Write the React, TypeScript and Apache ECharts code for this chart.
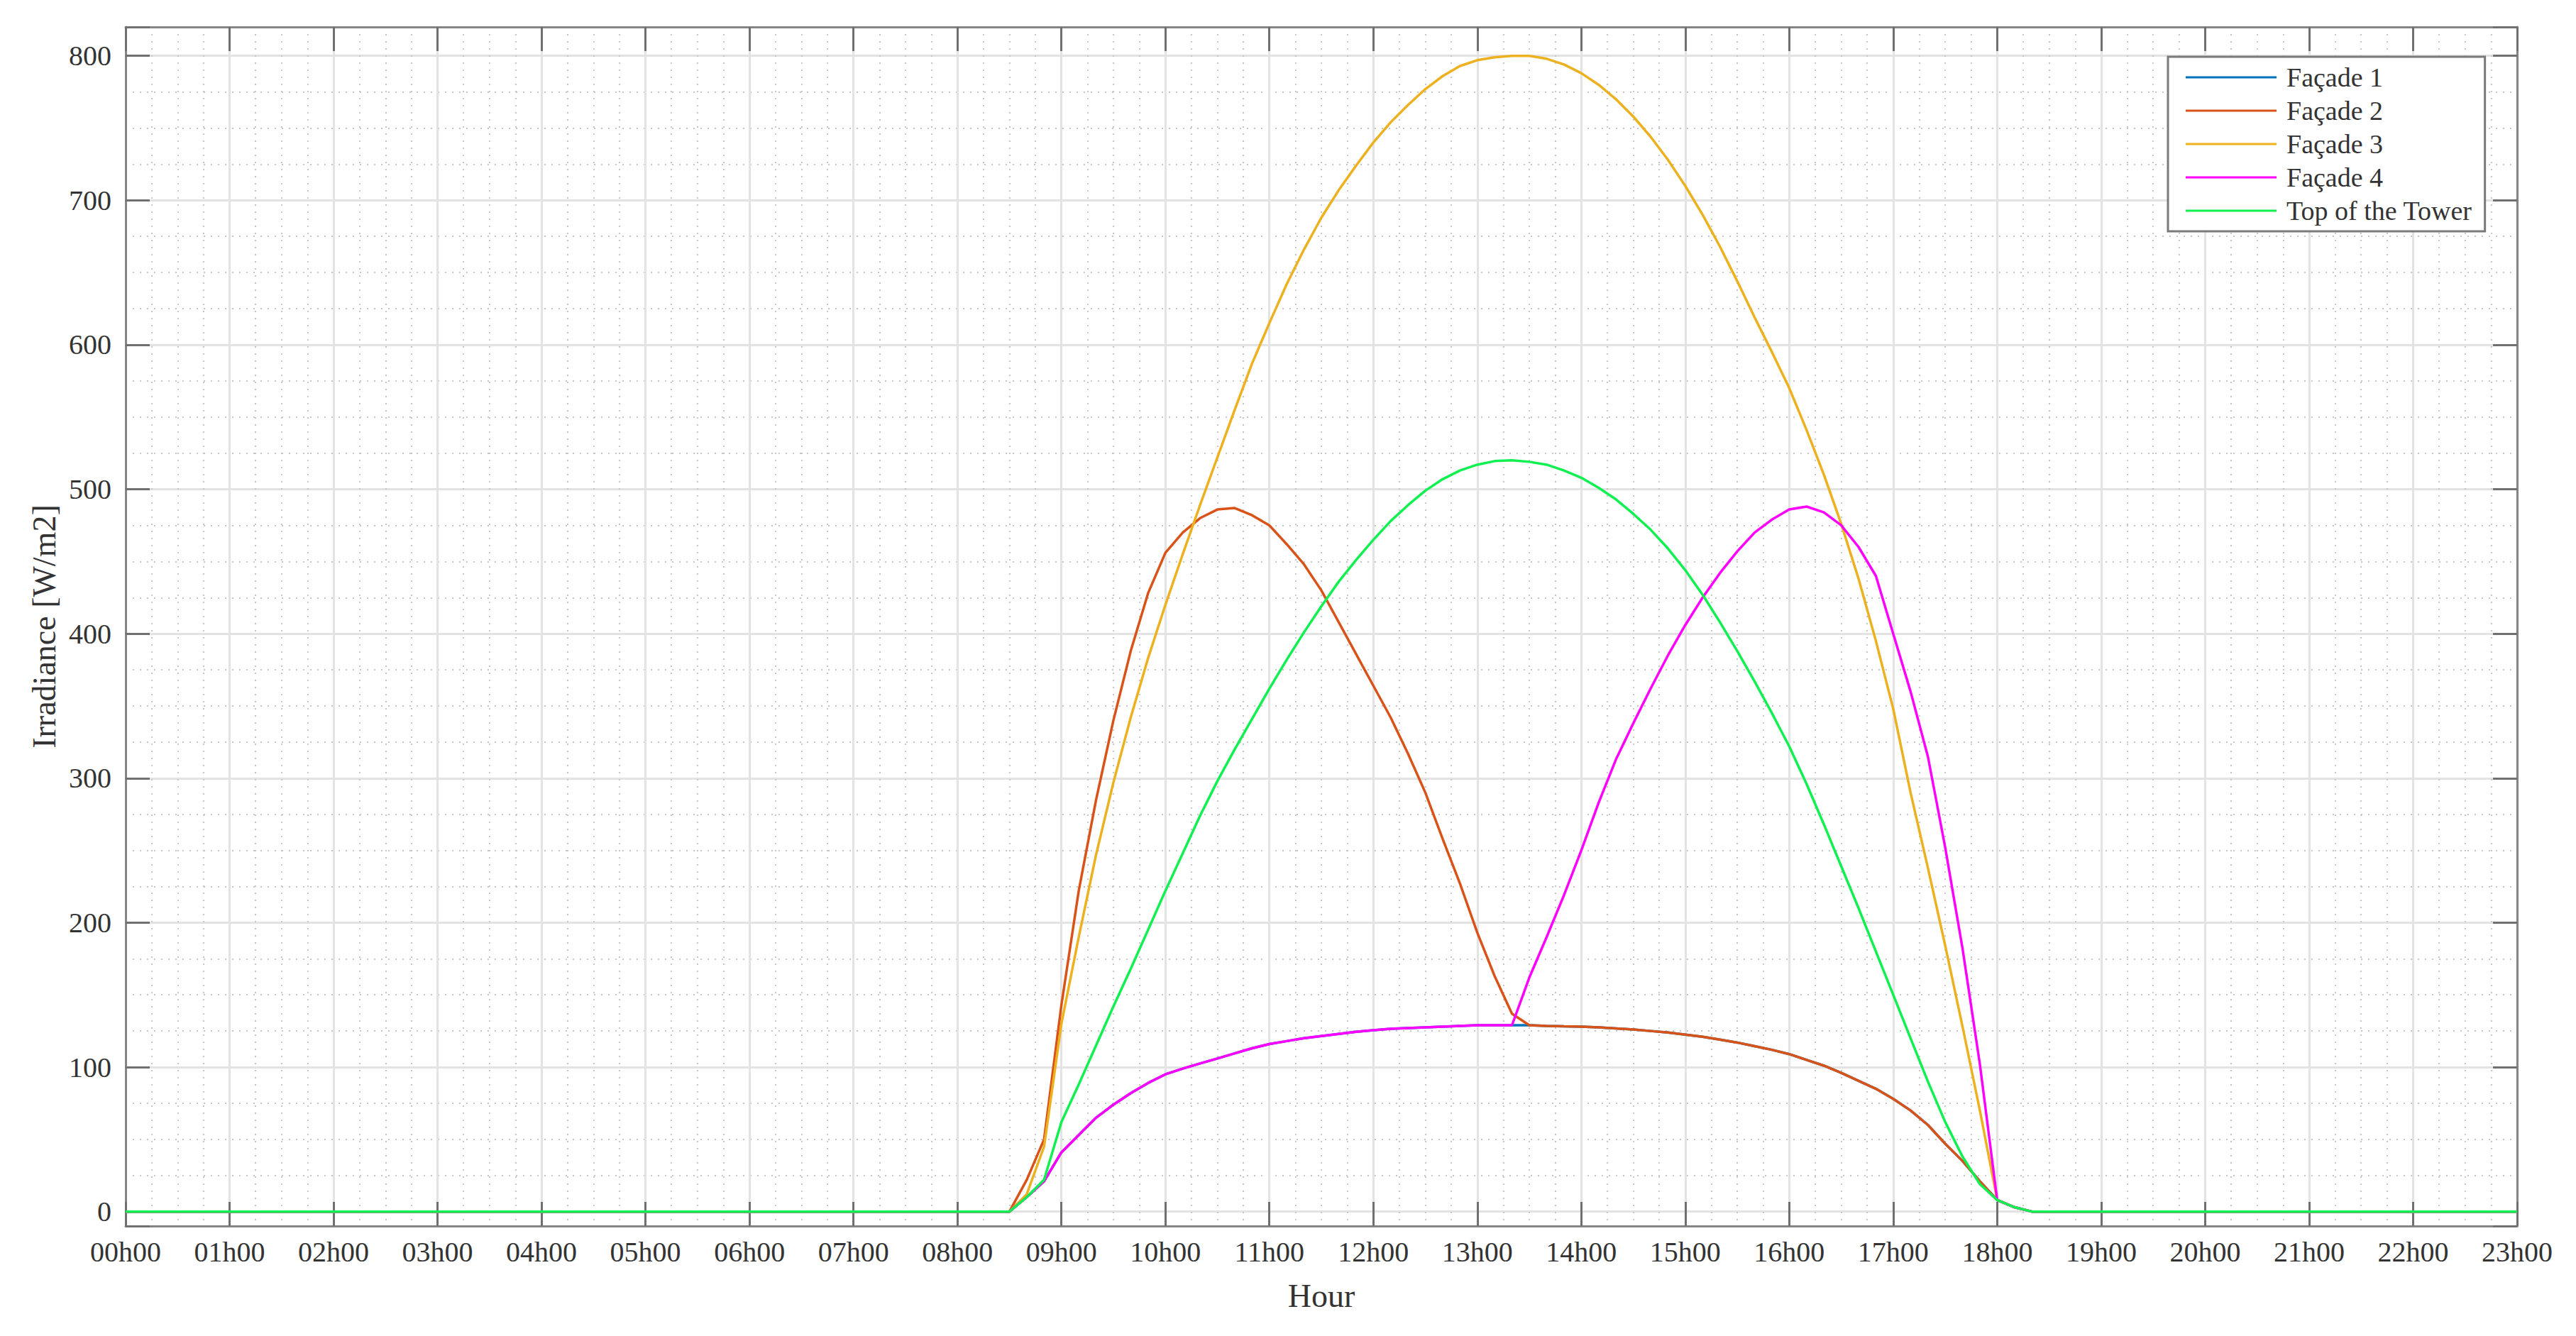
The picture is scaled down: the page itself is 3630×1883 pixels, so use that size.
import React, { useEffect, useRef } from "react";
import * as echarts from "echarts";

// Sample times (10-minute steps while the sun is up)
const TIMES = [
  "08h30", "08h40", "08h50", "09h00", "09h10", "09h20", "09h30", "09h40", "09h50", "10h00",
  "10h10", "10h20", "10h30", "10h40", "10h50", "11h00", "11h10", "11h20", "11h30", "11h40",
  "11h50", "12h00", "12h10", "12h20", "12h30", "12h40", "12h50", "13h00", "13h10", "13h20",
  "13h30", "13h40", "13h50", "14h00", "14h10", "14h20", "14h30", "14h40", "14h50", "15h00",
  "15h10", "15h20", "15h30", "15h40", "15h50", "16h00", "16h10", "16h20", "16h30", "16h40",
  "16h50", "17h00", "17h10", "17h20", "17h30", "17h40", "17h50", "18h00", "18h10", "18h20",
];
const DAY_START = "00h00";
const DAY_END = "23h00";
const NIGHT_VALUE = 0;

const FACADE_1 = [
  0, 10, 21, 41, 53, 65, 74, 82, 89, 95,
  99, 102.5, 106, 109.5, 113, 116, 118, 120, 121.5, 123,
  124.5, 125.5, 126.5, 127, 127.5, 128, 128.5, 129, 129, 129,
  129, 128.5, 128.2, 128, 127.5, 126.8, 126, 125, 124, 122.5,
  121, 119, 117, 114.5, 112, 109, 105, 101, 96, 90.5,
  85, 78, 70, 60, 47, 35, 21, 8, 3, 0,
];
const FACADE_2 = [
  0, 22, 50, 143, 222, 285, 340, 388, 428, 456,
  470, 480, 486, 487, 482, 475, 462, 448, 430, 408,
  386, 364, 342, 317, 290, 258, 227, 193, 163, 137,
  129, 128.5, 128.2, 128, 127.5, 126.8, 126, 125, 124, 122.5,
  121, 119, 117, 114.5, 112, 109, 105, 101, 96, 90.5,
  85, 78, 70, 60, 47, 35, 21, 8, 3, 0,
];
const FACADE_3 = [
  0, 12, 45, 130, 190, 247, 297, 342, 383, 420,
  455, 489, 522, 555, 587, 615, 642, 666, 688, 707,
  724, 740, 754, 766, 777, 786, 793, 797, 799, 800,
  800, 798, 794, 788, 780, 770, 758, 744, 728, 710,
  690, 668, 644, 619, 595, 570, 541, 510, 476, 438,
  395, 348, 290, 238, 184, 128, 70, 8, 3, 0,
];
const FACADE_4 = [
  0, 10, 21, 41, 53, 65, 74, 82, 89, 95,
  99, 102.5, 106, 109.5, 113, 116, 118, 120, 121.5, 123,
  124.5, 125.5, 126.5, 127, 127.5, 128, 128.5, 129, 129, 129,
  162, 190, 219, 250, 283, 313, 338, 362, 385, 406,
  425, 442, 457, 470, 479, 486, 488, 484, 475, 460,
  440, 400, 360, 315, 252, 182, 102, 8, 3, 0,
];
const TOP_OF_TOWER = [
  0, 10, 22, 62, 88, 115, 142, 168, 195, 222,
  248, 274, 298, 320, 341, 362, 382, 401, 419, 436,
  451, 465, 478, 489, 499, 507, 513, 517, 519.5, 520,
  519, 517, 513, 508, 501, 493, 483, 472, 459, 444,
  427, 408, 388, 367, 345, 322, 296, 268, 239, 210,
  180, 150, 120, 90, 62, 38, 19, 8, 3, 0,
];

const SERIES_NAMES = ["Façade 1", "Façade 2", "Façade 3", "Façade 4", "Top of the Tower"];
const SERIES_COLORS = ["#0072BD", "#D95319", "#EDB120", "#FF00FF", "#10F050"];
const SERIES_VALUES = [FACADE_1, FACADE_2, FACADE_3, FACADE_4, TOP_OF_TOWER];

const Y_TICKS = [0, 100, 200, 300, 400, 500, 600, 700, 800];
const Y_MIN = -10;
const Y_MAX = 820;
const X_MIN = 0;
const X_MAX = 23;

const toHours = (t: string) => {
  const [h, m] = t.split("h");
  return Number(h) + Number(m) / 60;
};
const hourLabel = (v: number) => `${String(Math.round(v)).padStart(2, "0")}h00`;

const FONT = "Liberation Serif";
const TEXT_COLOR = "#333333";
const BOX_COLOR = "#858585";
const TICK_COLOR = "#707070";
const MAJOR_GRID = "#e3e3e3";
const MINOR_GRID = "#c6c6c6";

// plot area (pixels)
const G_LEFT = 177;
const G_RIGHT = 83;
const G_TOP = 38;
const G_BOTTOM = 155;
const G_H = 1883 - G_TOP - G_BOTTOM;
// second grid aligned to the 0..800 span, used for minor horizontal grid lines
const G2_TOP = G_TOP + ((Y_MAX - Y_TICKS[Y_TICKS.length - 1]) / (Y_MAX - Y_MIN)) * G_H;
const G2_BOTTOM = G_BOTTOM + ((Y_TICKS[0] - Y_MIN) / (Y_MAX - Y_MIN)) * G_H;

export default function App() {
  const ref = useRef<HTMLDivElement>(null);

  useEffect(() => {
    if (!ref.current) return;
    const chart = echarts.init(ref.current, undefined, { renderer: "svg" });

    const axisLine = { show: true, onZero: false, lineStyle: { color: BOX_COLOR, width: 3 } };
    const axisTick = { show: true, inside: true, length: 34, lineStyle: { color: TICK_COLOR, width: 3 } };

    const series = SERIES_NAMES.map((name, i) => ({
      name,
      type: "line",
      xAxisIndex: 0,
      yAxisIndex: 0,
      symbol: "none",
      showSymbol: false,
      silent: true,
      clip: true,
      lineStyle: { color: SERIES_COLORS[i], width: 3.5 },
      itemStyle: { color: SERIES_COLORS[i] },
      data: [
        [toHours(DAY_START), NIGHT_VALUE],
        ...TIMES.map((t, k) => [toHours(t), SERIES_VALUES[i][k]]),
        [toHours(DAY_END), NIGHT_VALUE],
      ],
    }));

    const option: any = {
      animation: false,
      backgroundColor: "#ffffff",
      textStyle: { fontFamily: FONT },
      grid: [
        { left: G_LEFT, right: G_RIGHT, top: G_TOP, bottom: G_BOTTOM, containLabel: false },
        { left: G_LEFT, right: G_RIGHT, top: G2_TOP, bottom: G2_BOTTOM, containLabel: false },
      ],
      xAxis: [
        {
          gridIndex: 0,
          type: "value",
          position: "bottom",
          min: X_MIN,
          max: X_MAX,
          interval: 1,
          axisLine,
          axisTick,
          axisLabel: {
            formatter: (v: number) => hourLabel(v),
            fontFamily: FONT,
            fontSize: 40,
            color: TEXT_COLOR,
            margin: 16,
          },
          splitLine: { show: true, lineStyle: { color: MAJOR_GRID, width: 3 } },
          minorTick: { show: false, splitNumber: 4 },
          minorSplitLine: { show: true, lineStyle: { color: MINOR_GRID, width: 2, type: [2, 8] } },
          name: "Hour",
          nameLocation: "middle",
          nameGap: 75,
          nameTextStyle: { fontFamily: FONT, fontSize: 46, color: TEXT_COLOR },
        },
        {
          gridIndex: 0,
          type: "value",
          position: "top",
          min: X_MIN,
          max: X_MAX,
          interval: 1,
          axisLine,
          axisTick,
          axisLabel: { show: false },
          splitLine: { show: false },
        },
        {
          gridIndex: 1,
          type: "value",
          min: X_MIN,
          max: X_MAX,
          show: false,
        },
      ],
      yAxis: [
        {
          gridIndex: 0,
          type: "value",
          position: "left",
          min: Y_MIN,
          max: Y_MAX,
          minInterval: 100,
          maxInterval: 100,
          axisLine,
          axisTick,
          axisLabel: {
            formatter: (v: number) => (Y_TICKS.includes(Math.round(v)) ? String(Math.round(v)) : ""),
            fontFamily: FONT,
            fontSize: 40,
            color: TEXT_COLOR,
            margin: 20,
          },
          splitLine: { show: true, lineStyle: { color: MAJOR_GRID, width: 3 } },
          name: "Irradiance [W/m2]",
          nameLocation: "middle",
          nameGap: 92,
          nameRotate: 90,
          nameTextStyle: { fontFamily: FONT, fontSize: 46, color: TEXT_COLOR },
        },
        {
          gridIndex: 0,
          type: "value",
          position: "right",
          min: Y_MIN,
          max: Y_MAX,
          minInterval: 100,
          maxInterval: 100,
          axisLine,
          axisTick,
          axisLabel: { show: false },
          splitLine: { show: false },
        },
        {
          gridIndex: 1,
          type: "value",
          min: Y_TICKS[0],
          max: Y_TICKS[Y_TICKS.length - 1],
          interval: 25,
          axisLine: { show: false },
          axisTick: { show: false },
          axisLabel: { show: false },
          splitLine: {
            show: true,
            lineStyle: {
              color: ["rgba(0,0,0,0)", MINOR_GRID, MINOR_GRID, MINOR_GRID],
              width: 2,
              type: [2, 8],
            },
          },
        },
      ],
      legend: {
        show: true,
        orient: "vertical",
        left: 3055,
        top: 80,
        padding: [10, 18, 10, 25],
        icon: "rect",
        itemWidth: 128,
        itemHeight: 3,
        itemGap: 9,
        borderColor: "#7a7a7a",
        borderWidth: 3,
        backgroundColor: "#ffffff",
        selectedMode: false,
        textStyle: { fontFamily: FONT, fontSize: 38, color: TEXT_COLOR, padding: [0, 0, 0, 9] },
        data: SERIES_NAMES,
      },
      series,
    };

    chart.setOption(option);
    return () => chart.dispose();
  }, []);

  return (
    <div
      ref={ref}
      style={{ position: "absolute", left: 0, top: 0, width: 3630, height: 1883, background: "#fff" }}
    />
  );
}
